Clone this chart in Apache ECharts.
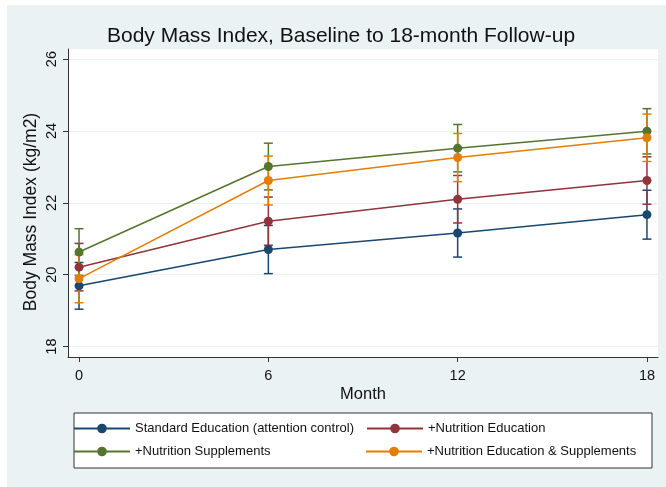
<!DOCTYPE html>
<html>
<head>
<meta charset="utf-8">
<script src="https://cdn.jsdelivr.net/npm/echarts@6/dist/echarts.min.js"></script>
<style>
  html, body { margin: 0; padding: 0; background: #fff; }
  #chart { position: absolute; left: 7px; top: 5px; width: 659px; height: 482px; }
</style>
</head>
<body>
<div id="chart"></div>
<script>
// months of follow-up
const months = [0, 6, 12, 18]
const yTicks = [18, 20, 22, 24, 26]
const xTicks = [0, 6, 12, 18]

// group means (BMI) and error bar half-widths
const standardEdu = [19.69, 20.70, 21.16, 21.67]
const standardEduErr = [0.65, 0.67, 0.67, 0.68]
const nutritionEdu = [20.21, 21.49, 22.10, 22.62]
const nutritionEduErr = [0.66, 0.67, 0.66, 0.66]
const nutritionSupp = [20.63, 23.01, 23.52, 23.99]
const nutritionSuppErr = [0.65, 0.65, 0.66, 0.63]
const eduSupp = [19.89, 22.62, 23.26, 23.81]
const eduSuppErr = [0.67, 0.68, 0.67, 0.66]

const groups = [
  { name: 'Standard Education (attention control)', values: standardEdu, err: standardEduErr, color: '#1a476f' },
  { name: '+Nutrition Education', values: nutritionEdu, err: nutritionEduErr, color: '#90353b' },
  { name: '+Nutrition Supplements', values: nutritionSupp, err: nutritionSuppErr, color: '#55752f' },
  { name: '+Nutrition Education & Supplements', values: eduSupp, err: eduSuppErr, color: '#e37e00' },
]

const font = '"Liberation Sans", Arial, sans-serif'
const chart = echarts.init(document.getElementById('chart'), null, { renderer: 'canvas' })

const lineSeries = groups.map(g => ({
  name: g.name,
  type: 'line',
  data: months.map((m, i) => [m, g.values[i]]),
  symbol: 'circle',
  symbolSize: 9,
  lineStyle: { color: g.color, width: 1.5 },
  itemStyle: { color: g.color },
  z: 3,
  animation: false,
}))

// error bars get their own names so the legend picks up the line series
const errSeries = groups.map(g => ({
  name: g.name + ' (range)',
  type: 'custom',
  data: months.map((m, i) => [m, g.values[i] - g.err[i], g.values[i] + g.err[i]]),
  renderItem: (params, api) => {
    const lo = api.coord([api.value(0), api.value(1)])
    const hi = api.coord([api.value(0), api.value(2)])
    const w = 4.5
    const style = { stroke: g.color, lineWidth: 1.5 }
    return {
      type: 'group',
      children: [
        { type: 'line', shape: { x1: lo[0], y1: lo[1], x2: hi[0], y2: hi[1] }, style },
        { type: 'line', shape: { x1: lo[0] - w, y1: lo[1], x2: lo[0] + w, y2: lo[1] }, style },
        { type: 'line', shape: { x1: hi[0] - w, y1: hi[1], x2: hi[0] + w, y2: hi[1] }, style },
      ],
    }
  },
  z: 2,
  animation: false,
}))

// legend slots (two columns, two rows)
const legendPos = [[66, 417], [359, 417], [66, 440], [358, 440]]
const legends = groups.map((g, i) => ({
  data: [g.name],
  left: legendPos[i][0],
  top: legendPos[i][1],
  padding: 0,
  itemWidth: 56,
  itemHeight: 12,
  selectedMode: false,
  textStyle: { fontFamily: font, fontSize: 13, color: '#111' },
}))

chart.setOption({
  backgroundColor: '#eaf2f3',
  animation: false,
  title: {
    text: 'Body Mass Index, Baseline to 18-month Follow-up',
    left: 95,
    top: 16,
    textStyle: { fontFamily: font, fontSize: 21, fontWeight: 'normal', color: '#111' },
  },
  graphic: [{
    type: 'rect',
    shape: { x: 67, y: 408, width: 578, height: 55 },
    style: { fill: '#fff', stroke: '#333', lineWidth: 1 },
    z: 0,
  }],
  legend: legends,
  grid: {
    left: 61, top: 44, right: 8, bottom: 130,
    show: true, backgroundColor: '#fff', borderWidth: 0,
  },
  xAxis: {
    type: 'value',
    min: -0.35,
    max: 18.35,
    name: 'Month',
    nameLocation: 'middle',
    nameGap: 29,
    nameMoveOverlap: false,
    nameTextStyle: { fontFamily: font, fontSize: 16.5, color: '#111' },
    axisLine: { onZero: false, lineStyle: { color: '#333', width: 1 } },
    axisTick: { customValues: xTicks, length: 5, lineStyle: { color: '#333' } },
    axisLabel: { customValues: xTicks, margin: 11, fontFamily: font, fontSize: 14.5, color: '#111' },
    splitLine: { show: false },
  },
  yAxis: {
    type: 'value',
    min: 17.71,
    max: 26.28,
    name: 'Body Mass Index (kg/m2)',
    nameLocation: 'middle',
    nameGap: 28,
    nameMoveOverlap: false,
    nameTextStyle: { fontFamily: font, fontSize: 17.5, color: '#111', padding: [0, 18, 0, 0] },
    axisLine: { show: true, onZero: false, lineStyle: { color: '#333', width: 1 } },
    axisTick: { show: true, customValues: yTicks, length: 5, lineStyle: { color: '#333' } },
    axisLabel: { customValues: yTicks, rotate: 90, margin: 9, fontFamily: font, fontSize: 14.5, color: '#111' },
    splitLine: { show: true, lineStyle: { color: '#eaf2f3', width: 1 } },
  },
  series: [...lineSeries, ...errSeries],
})

window.addEventListener('resize', () => chart.resize())
</script>
</body>
</html>
